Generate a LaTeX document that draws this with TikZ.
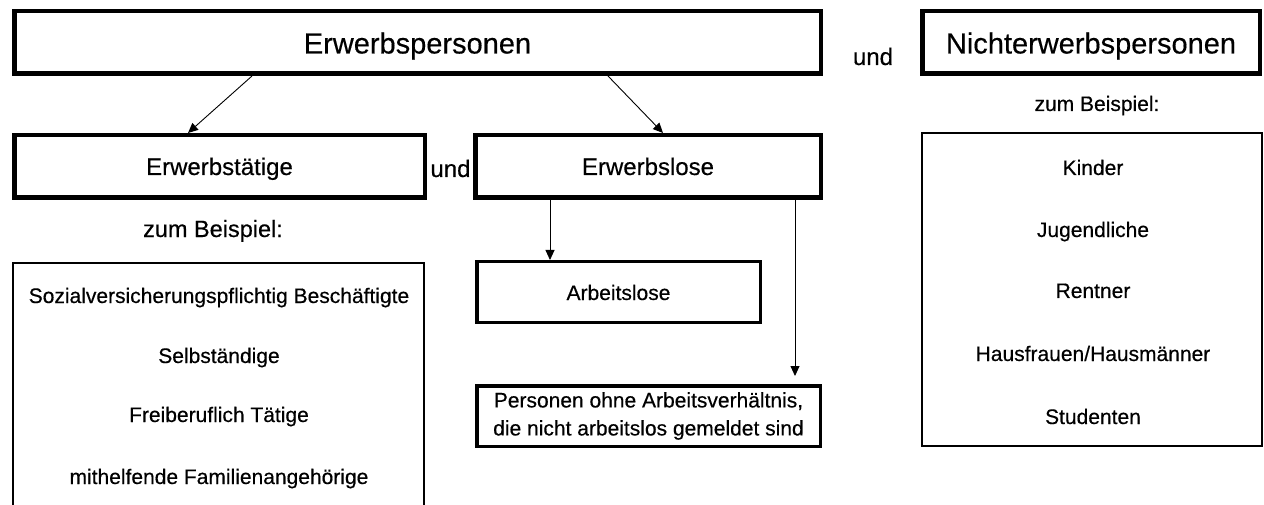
\documentclass[tikz,border=0pt]{standalone}
\usepackage{fontspec}
\setmainfont{Liberation Sans}[FakeBold=0.4]
\usetikzlibrary{arrows.meta}
\begin{document}
\begin{tikzpicture}[x=1pt,y=-1pt,
  thickbox/.style={draw, line width=4.5pt, inner sep=0pt, text depth=0pt},
  midbox/.style={draw, line width=3.5pt, inner sep=0pt},
  thinbox/.style={draw, line width=2pt, inner sep=0pt},
  bigfont/.style={font=\fontsize{29}{34}\selectfont},
  subfont/.style={font=\fontsize{24}{28}\selectfont},
  itemfont/.style={font=\fontsize{21}{28}\selectfont},
  txt/.style={inner sep=0pt, anchor=base},
  conn/.style={line width=0.9pt, -{Triangle[length=10pt,width=9pt]}}]
\fill[white] (0,0) rectangle (1264,505);
\useasboundingbox (0,0) rectangle (1264,505);

% top row
\node[thickbox, bigfont, minimum width=806.5pt, minimum height=62.5pt, text height=22pt] (top) at (417.5,42.5) {Erwerbspersonen};
\node[txt, subfont] (und1) at (873,65) {und};
\node[thickbox, bigfont, minimum width=337.5pt, minimum height=62.5pt, text height=22pt] (nicht) at (1091,42.5) {Nichterwerbspersonen};
\node[txt, itemfont] (zb2) at (1097,111) {zum Beispiel:};

% second row
\node[thickbox, subfont, minimum width=410.5pt, minimum height=62.5pt, text height=17pt] (et) at (219.5,166.5) {Erwerbstätige};
\node[txt, subfont] (und2) at (450.5,177) {und};
\node[thickbox, subfont, minimum width=345.5pt, minimum height=62.5pt, text height=17pt] (el) at (648,166.5) {Erwerbslose};

\node[txt, font=\fontsize{23.5}{28}\selectfont] (zb1) at (213,237) {zum Beispiel:};

% left list
\node[thinbox, minimum width=411pt, minimum height=300pt] (llist) at (218.5,413) {};
\node[txt, itemfont] (l1) at (219,303) {Sozialversicherungspflichtig Beschäftigte};
\node[txt, itemfont] (l2) at (219,363) {Selbständige};
\node[txt, itemfont] (l3) at (219,422) {Freiberuflich Tätige};
\node[txt, itemfont] (l4) at (219,484) {mithelfende Familienangehörige};

% middle column
\node[midbox, itemfont, minimum width=283.5pt, minimum height=60.5pt, text height=16pt, text depth=0pt] (al) at (618.5,292) {Arbeitslose};
\node[midbox, itemfont, minimum width=343.5pt, minimum height=60.5pt, align=center] (pe) at (648.5,416) {Personen ohne Arbeitsverhältnis,\\die nicht arbeitslos gemeldet sind};

% right list
\node[thinbox, minimum width=340pt, minimum height=313pt] (rlist) at (1092,289.5) {};
\node[txt, itemfont] (r1) at (1093,175) {Kinder};
\node[txt, itemfont] (r2) at (1093,237) {Jugendliche};
\node[txt, itemfont] (r3) at (1093,298) {Rentner};
\node[txt, itemfont] (r4) at (1093,361) {Hausfrauen/Hausmänner};
\node[txt, itemfont] (r5) at (1093,424) {Studenten};

% connectors
\draw[conn] ([xshift=-165.5pt]top.south) -- ([xshift=-31.5pt]et.north);
\draw[conn] ([xshift=190.5pt]top.south) -- ([xshift=15pt]el.north);
\draw[conn] ([xshift=-98pt]el.south) -- ([xshift=-68.5pt]al.north);
\draw[conn, shorten >=8pt] ([xshift=147pt]el.south) -- ([xshift=146.5pt]pe.north);
\end{tikzpicture}
\end{document}
